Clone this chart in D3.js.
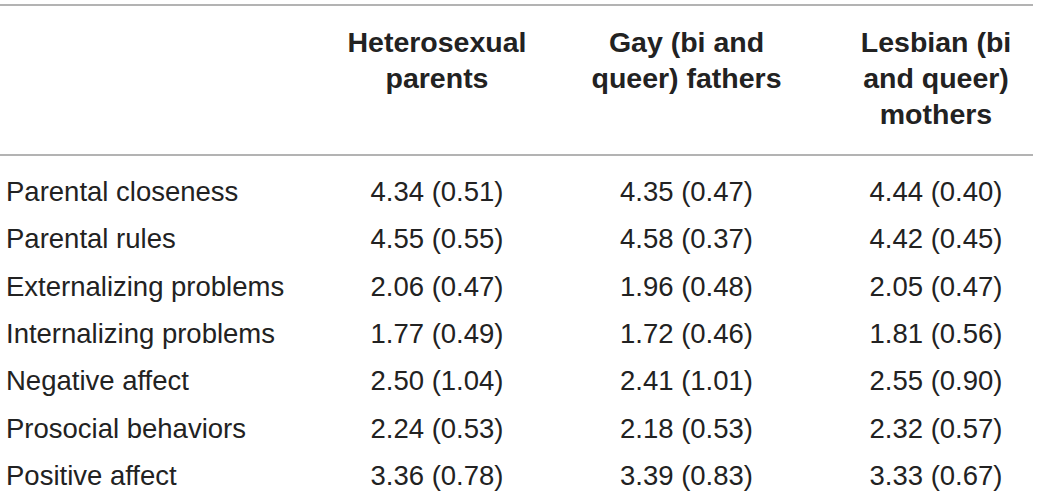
<!DOCTYPE html>
<html>
<head>
<meta charset="utf-8">
<script src="https://cdn.jsdelivr.net/npm/d3@7"></script>
<style>
  html, body { margin: 0; padding: 0; background: #fff; }
  svg { display: block; }
</style>
</head>
<body>
<svg id="chart" width="1039" height="496"></svg>
<script>
// ---- data ----
const rowLabels = [
  "Parental closeness",
  "Parental rules",
  "Externalizing problems",
  "Internalizing problems",
  "Negative affect",
  "Prosocial behaviors",
  "Positive affect"
];
const columnHeaders = [
  ["Heterosexual", "parents"],
  ["Gay (bi and", "queer) fathers"],
  ["Lesbian (bi", "and queer)", "mothers"]
];
const heteroMeans = [4.34, 4.55, 2.06, 1.77, 2.50, 2.24, 3.36];
const heteroSDs   = [0.51, 0.55, 0.47, 0.49, 1.04, 0.53, 0.78];
const gayMeans    = [4.35, 4.58, 1.96, 1.72, 2.41, 2.18, 3.39];
const gaySDs      = [0.47, 0.37, 0.48, 0.46, 1.01, 0.53, 0.83];
const lesMeans    = [4.44, 4.42, 2.05, 1.81, 2.55, 2.32, 3.33];
const lesSDs      = [0.40, 0.45, 0.47, 0.56, 0.90, 0.57, 0.67];

// ---- build ----
const W = 1039, H = 496;
const svg = d3.select("#chart");
const fmt = d3.format(".2f");
const series = [
  {means: heteroMeans, sds: heteroSDs},
  {means: gayMeans, sds: gaySDs},
  {means: lesMeans, sds: lesSDs}
];

const x = d3.scalePoint().domain(d3.range(columnHeaders.length)).range([437, 936]);
const y = d3.scalePoint().domain(rowLabels).range([201, 485]);

const textColor = "#222";
const lineColor = "#9a9a9a";

// rules
svg.append("line").attr("x1", 0).attr("x2", 1033).attr("y1", 5).attr("y2", 5)
  .attr("stroke", lineColor).attr("stroke-width", 1.5);
svg.append("line").attr("x1", 0).attr("x2", 1033).attr("y1", 155).attr("y2", 155)
  .attr("stroke", lineColor).attr("stroke-width", 1.5);

// headers
const hdr = svg.append("g")
  .attr("font-family", "'Liberation Sans', Arial, Helvetica, sans-serif")
  .attr("font-weight", "bold")
  .attr("font-size", 28.5)
  .attr("fill", textColor)
  .attr("text-anchor", "middle");
columnHeaders.forEach((lines, i) => {
  hdr.selectAll(null).data(lines).enter().append("text")
    .attr("x", x(i))
    .attr("y", (d, k) => 52 + k * 36)
    .text(d => d);
});

// row labels
const body = svg.append("g")
  .attr("font-family", "'Liberation Sans', Arial, Helvetica, sans-serif")
  .attr("font-size", 27.5)
  .attr("fill", textColor);
body.selectAll("text.row").data(rowLabels).enter().append("text")
  .attr("class", "row")
  .attr("x", 6)
  .attr("y", d => y(d))
  .text(d => d);

// cells
series.forEach((s, i) => {
  body.selectAll(null).data(rowLabels).enter().append("text")
    .attr("x", x(i))
    .attr("y", d => y(d))
    .attr("text-anchor", "middle")
    .text((d, r) => `${fmt(s.means[r])} (${fmt(s.sds[r])})`);
});
</script>
</body>
</html>
